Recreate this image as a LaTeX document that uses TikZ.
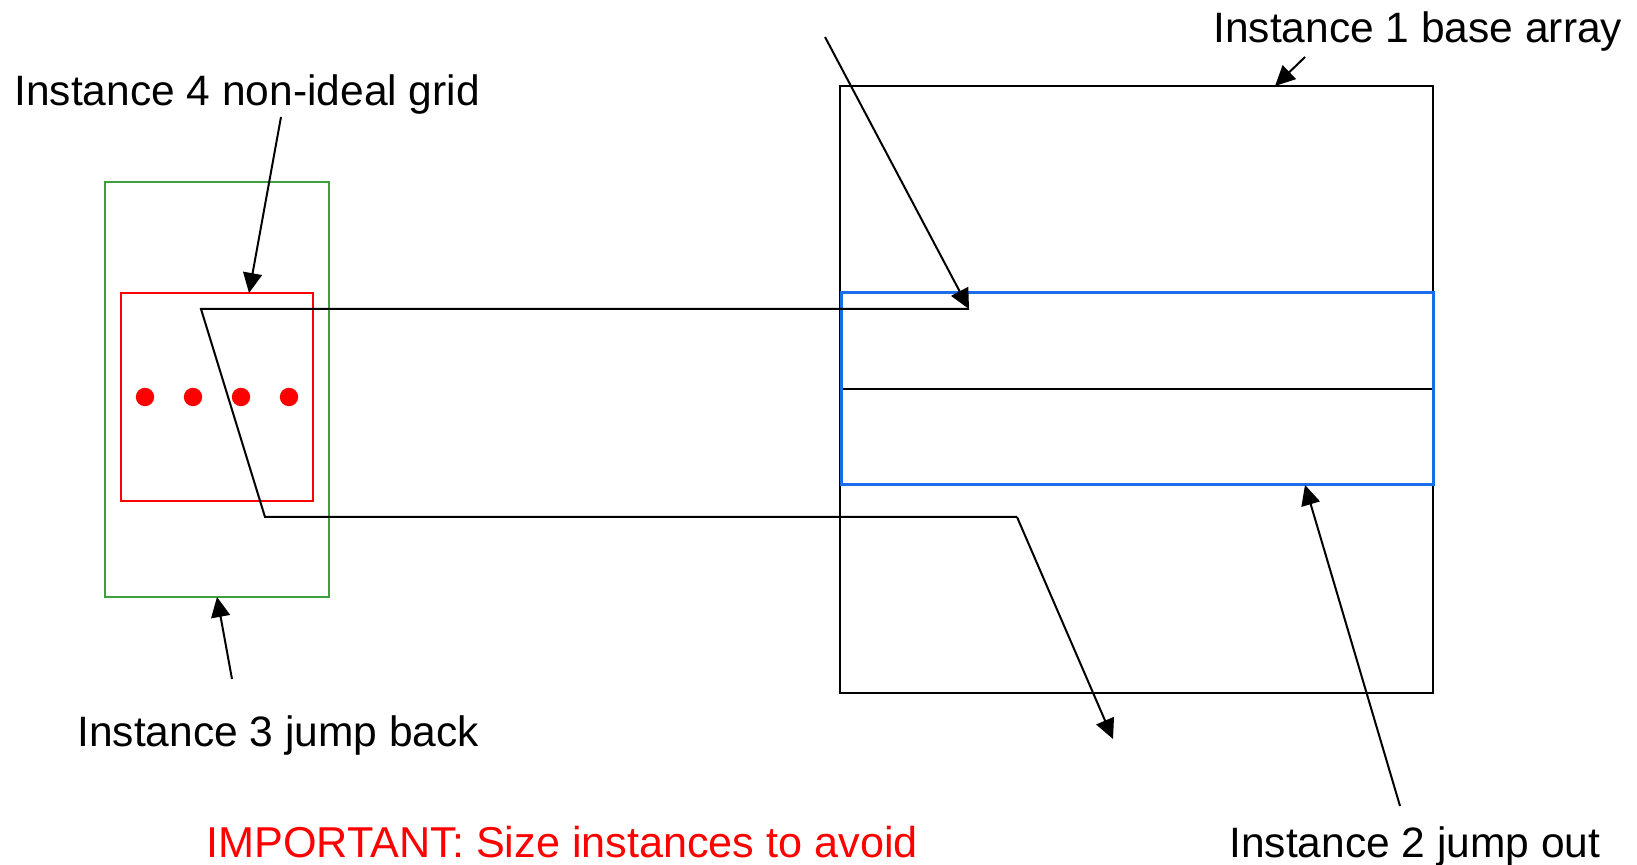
\documentclass[tikz,border=0pt]{standalone}
\usepackage{fontspec}
\setmainfont{Liberation Sans}
\usetikzlibrary{arrows.meta}
\definecolor{bluel}{RGB}{26,110,235}
\definecolor{greenl}{RGB}{60,160,60}
\tikzset{
  lbl/.style={anchor=base west, inner sep=0pt, font=\fontsize{21.25pt}{25pt}\selectfont},
  blk/.style={draw=black, line width=1pt},
  conn/.style={black, line width=1pt, -{Triangle[length=10pt,width=9.5pt]}},
  dot/.style={fill=red, draw=none},
}
\begin{document}
\begin{tikzpicture}[x=0.5pt,y=-0.5pt]
\useasboundingbox (0,0) rectangle (1637,865);
% coordinates
\coordinate (bigTL) at (840,86);
\coordinate (bigBR) at (1433,693);
\coordinate (bluTL) at (841,293);
\coordinate (bluBR) at (1433,485);
\coordinate (midL) at (841,389);
\coordinate (midR) at (1433,389);
\coordinate (grnTL) at (105,182);
\coordinate (grnBR) at (329,597);
\coordinate (redTL) at (121,293);
\coordinate (redBR) at (313,501);
% path corners
\coordinate (p1) at (969,309);
\coordinate (p2) at (201,309);
\coordinate (p3) at (265,517);
\coordinate (p4) at (1017,517);
\coordinate (p5) at (1113,739);
\coordinate (dstart) at (825,37);
% labels
\node[lbl] (t1) at (1213,43) {Instance 1 base array};
\node[lbl] (t4) at (14,106) {Instance 4 non-ideal grid};
\node[lbl] (t3) at (77,746) {Instance 3 jump back};
\node[lbl] (t2) at (1229,857) {Instance 2 jump out};
\node[lbl, text=red, font=\fontsize{21.6pt}{25pt}\selectfont] (timp) at (206,857) {IMPORTANT: Size instances to avoid};
% label arrow ends
\coordinate (a1s) at (1305,57);
\coordinate (a1e) at (1275,86);
\coordinate (a4s) at (281,117);
\coordinate (a4e) at (249,293);
\coordinate (a3s) at (232,679);
\coordinate (a3e) at (217,597);
\coordinate (a2s) at (1400,806);
\coordinate (a2e) at (1305,485);
% rectangles
\draw[blk] (bigTL) rectangle (bigBR);
\draw[blk] (midL) -- (midR);
\draw[draw=greenl, line width=1pt] (grnTL) rectangle (grnBR);
\draw[draw=red, line width=1pt] (redTL) rectangle (redBR);
\draw[draw=bluel, line width=1.5pt] (bluTL) rectangle (bluBR);
% dots
\foreach \x/\n in {145/d1,193/d2,241/d3,289/d4} {
  \fill[dot] (\x,397) circle[radius=4.6pt];
}
% path
\draw[blk, line join=miter] (p1) -- (p2) -- (p3) -- (p4);
\draw[conn] (p4) -- (p5);
\draw[conn] (dstart) -- (p1);
% label arrows
\draw[conn] (a1s) -- (a1e);
\draw[conn] (a4s) -- (a4e);
\draw[conn] (a3s) -- (a3e);
\draw[conn] (a2s) -- (a2e);
\end{tikzpicture}
\end{document}
